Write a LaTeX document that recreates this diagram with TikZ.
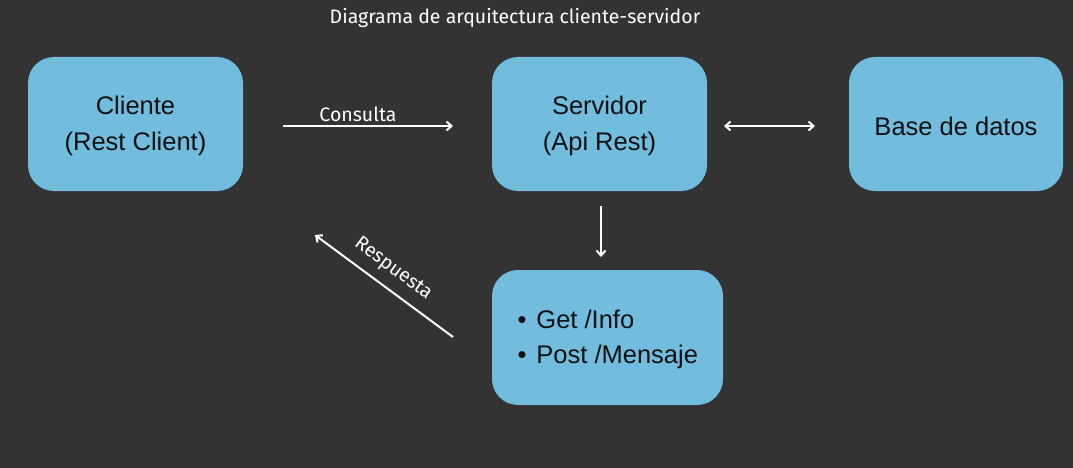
\documentclass[tikz,border=0pt]{standalone}
\usepackage{fontspec}
\setmainfont{Liberation Sans}
\newfontfamily\labfont{Fira Sans}
\usetikzlibrary{arrows.meta}
\definecolor{bgc}{HTML}{333333}
\definecolor{boxc}{HTML}{72BDDE}
\definecolor{txtc}{HTML}{111111}
\begin{document}
\begin{tikzpicture}[x=1pt,y=-1pt,
  boxstyle/.style={fill=boxc,rounded corners=26pt,draw=none},
  boxtext/.style={text=txtc,font=\fontsize{25.5}{36}\selectfont,align=center},
  conn/.style={draw=white,line width=2pt,-{Straight Barb[length=5pt,width=9pt,line width=2pt]}},
  labstyle/.style={text=white,font=\labfont\fontsize{19.5}{22}\selectfont,inner sep=0pt}]
\fill[bgc] (0,0) rectangle (1073,468);
\useasboundingbox (0,0) rectangle (1073,468);
\node[labstyle] (title) at (515,18) {Diagrama de arquitectura cliente-servidor};
\path[boxstyle] (28,57) rectangle (243,191);
\node[boxtext] (cli) at (135.5,126) {Cliente\\(Rest Client)};
\path[boxstyle] (492,57) rectangle (707,191);
\node[boxtext] (srv) at (599.5,126) {Servidor\\(Api Rest)};
\path[boxstyle] (849,57) rectangle (1063,191);
\node[boxtext] (db) at (956,126) {Base de datos};
\path[boxstyle] (492,270) rectangle (723,405);
\node[text=txtc,font=\fontsize{25.5}{35}\selectfont,align=left,anchor=west] (ops) at (514,339) {\textbullet\hspace{10pt}Get /Info\\\textbullet\hspace{10pt}Post /Mensaje};
\coordinate (c1) at (283,126);
\coordinate (c2) at (453,126);
\draw[conn] (c1) -- (c2);
\node[labstyle] (lcons) at (358,114) {Consulta};
\coordinate (d1) at (724,126);
\coordinate (d2) at (815,126);
\draw[conn,{Straight Barb[length=5pt,width=9pt,line width=2pt]}-{Straight Barb[length=5pt,width=9pt,line width=2pt]}] (d1) -- (d2);
\coordinate (v1) at (601,206);
\coordinate (v2) at (601,257);
\draw[conn] (v1) -- (v2);
\coordinate (r1) at (453,337);
\coordinate (r2) at (315,235);
\draw[conn] (r1) -- (r2);
\node[labstyle,rotate=-36.5] (lresp) at (393,269) {Respuesta};
\end{tikzpicture}
\end{document}
